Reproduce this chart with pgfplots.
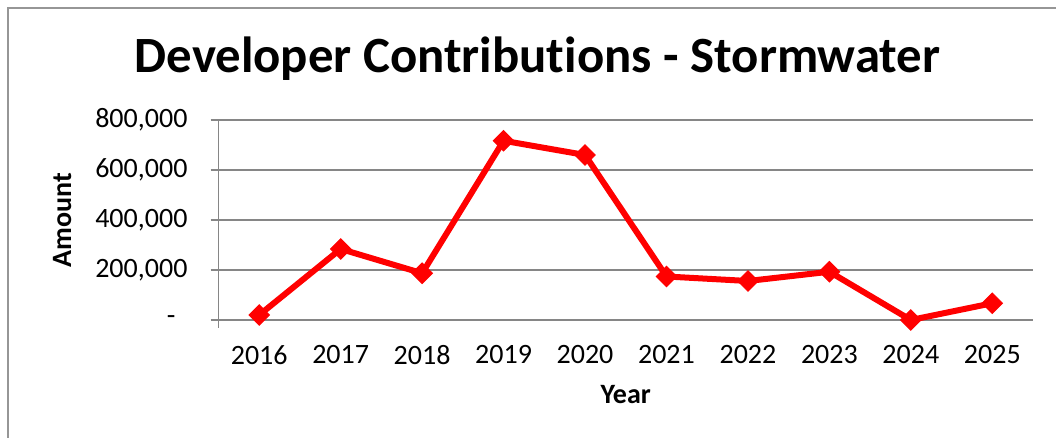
\documentclass[border=0pt]{standalone}
\usepackage{pgfplots}
\pgfplotsset{compat=1.18}
\usepackage{fontspec}
\setmainfont{Carlito}[Ligatures={NoCommon}, Contextuals={NoAlternate}]
\definecolor{gridgray}{RGB}{134,134,134}
\definecolor{framegray}{RGB}{150,150,150}
\begin{document}
\begin{tikzpicture}
\useasboundingbox (0,0) rectangle (528pt,219pt);
\fill[white] (0,0) rectangle (528pt,219pt);
\draw[framegray, line width=1pt] (3.75pt,-10pt) -- (3.75pt,215pt) -- (540pt,215pt);
\node[font=\fontsize{25.4}{30}\selectfont\bfseries, anchor=base] at (268.75pt,182.5pt) {Developer Contributions - Stormwater};
\begin{axis}[
  at={(109.25pt,59pt)}, anchor=south west,
  scale only axis, width=407.25pt, height=100pt,
  xmin=-0.5, xmax=9.5, ymin=0, ymax=800000,
  axis lines*=left,
  axis line style={draw=gridgray, line width=0.75pt},
  ymajorgrids, grid style={gridgray, line width=0.75pt},
  tick align=outside, major tick length=4pt,
  xtick={0,...,9},
  xticklabels={2016,2017,2018,2019,2020,2021,2022,2023,2024,2025},
  xtick style={draw=none},
  extra x ticks={-0.5}, extra x tick labels={},
  extra x tick style={xtick style={draw=gridgray, line width=0.75pt}},
  ytick={0,200000,400000,600000,800000},
  yticklabels={{-\rule{6pt}{0pt}},{200,000},{400,000},{600,000},{800,000}},
  ytick style={draw=gridgray, line width=0.75pt},
  scaled y ticks=false,
  tick label style={font=\fontsize{14}{16}\selectfont, text=black},
  yticklabel style={xshift=-8pt},
  xticklabel style={yshift=-5.3pt},
  xlabel={\bfseries Year}, ylabel={\bfseries Amount},
  label style={font=\fontsize{14}{16}\selectfont\bfseries},
  xlabel style={at={(axis description cs:0.5,-0.375)}, anchor=center},
  ylabel style={at={(axis description cs:-0.1921,0.5)}, anchor=center},
  clip=false,
]
\addplot[color=red, line width=3pt, mark=square*, mark size=3.6pt,
  mark options={rotate=45, fill=red, draw=red, line width=0.5pt}]
  coordinates {(0,20000) (1,284000) (2,187000) (3,717000) (4,660000)
               (5,174000) (6,156000) (7,193000) (8,0) (9,67000)};
\end{axis}
\end{tikzpicture}
\end{document}
